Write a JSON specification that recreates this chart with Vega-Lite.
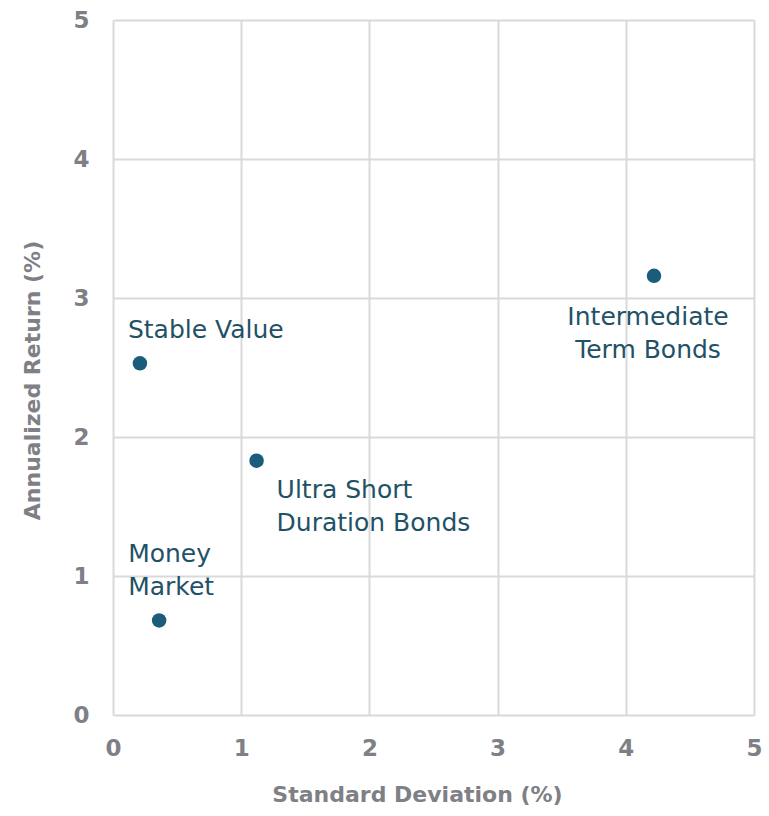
{
  "$schema": "https://vega.github.io/schema/vega-lite/v6.json",
  "width": 641,
  "height": 695,
  "autosize": "none",
  "padding": {"left": 113, "top": 20, "right": 15, "bottom": 101},
  "background": "white",
  "config": {
    "view": {"stroke": null},
    "font": "DejaVu Sans",
    "axis": {
      "domain": false,
      "ticks": false,
      "grid": true,
      "gridColor": "#d9d9d9",
      "gridWidth": 2,
      "labelFlush": false,
      "labelColor": "#7f7f86",
      "labelFont": "DejaVu Sans",
      "labelFontSize": 23,
      "labelFontWeight": "bold",
      "titleColor": "#7f7f86",
      "titleFont": "DejaVu Sans",
      "titleFontSize": 22,
      "titleFontWeight": "bold"
    }
  },
  "data": {
    "values": [
      {"name": "Stable Value", "label": ["Stable Value"], "sd": 0.21, "ret": 2.53},
      {"name": "Money Market", "label": ["Money", "Market"], "sd": 0.36, "ret": 0.68},
      {"name": "Ultra Short Duration Bonds", "label": ["Ultra Short", "Duration Bonds"], "sd": 1.12, "ret": 1.83},
      {"name": "Intermediate Term Bonds", "label": ["Intermediate", "Term Bonds"], "sd": 4.22, "ret": 3.16}
    ]
  },
  "encoding": {
    "x": {
      "field": "sd", "type": "quantitative",
      "scale": {"domain": [0, 5], "nice": false, "zero": true},
      "axis": {"values": [0, 1, 2, 3, 4, 5], "title": "Standard Deviation (%)", "labelPadding": 22, "titlePadding": 24, "titleX": 304}
    },
    "y": {
      "field": "ret", "type": "quantitative",
      "scale": {"domain": [0, 5], "nice": false},
      "axis": {"values": [0, 1, 2, 3, 4, 5], "title": "Annualized Return (%)", "labelPadding": 24, "titlePadding": 28, "titleY": 360}
    }
  },
  "layer": [
    {
      "mark": {"type": "point", "filled": true, "size": 210, "color": "#1b5c7a", "opacity": 1}
    },
    {
      "transform": [{"filter": "datum.name === 'Stable Value'"}],
      "mark": {"type": "text", "align": "left", "baseline": "top", "dx": -12, "dy": -45, "fontSize": 25, "lineHeight": 33, "color": "#1f5266"},
      "encoding": {"text": {"field": "label"}}
    },
    {
      "transform": [{"filter": "datum.name === 'Money Market'"}],
      "mark": {"type": "text", "align": "left", "baseline": "top", "dx": -31, "dy": -78, "fontSize": 25, "lineHeight": 33, "color": "#1f5266"},
      "encoding": {"text": {"field": "label"}}
    },
    {
      "transform": [{"filter": "datum.name === 'Ultra Short Duration Bonds'"}],
      "mark": {"type": "text", "align": "left", "baseline": "top", "dx": 20, "dy": 17, "fontSize": 25, "lineHeight": 33, "color": "#1f5266"},
      "encoding": {"text": {"field": "label"}}
    },
    {
      "transform": [{"filter": "datum.name === 'Intermediate Term Bonds'"}],
      "mark": {"type": "text", "align": "center", "baseline": "top", "dx": -6, "dy": 29, "fontSize": 25, "lineHeight": 33, "color": "#1f5266"},
      "encoding": {"text": {"field": "label"}}
    }
  ]
}
